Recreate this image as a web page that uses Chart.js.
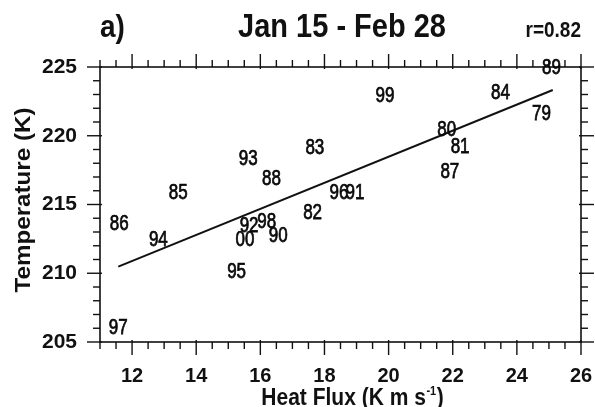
<!DOCTYPE html>
<html>
<head>
<meta charset="utf-8">
<script src="https://cdn.jsdelivr.net/npm/chart.js@4.4.1/dist/chart.umd.min.js"></script>
<style>
	html, body { margin: 0; padding: 0; background: #fff; overflow: hidden; }
	canvas { display: block; }
</style>
</head>
<body>
<canvas id="c-scatter" width="595" height="407"></canvas>
<script>
let years = ["79", "80", "81", "82", "83", "84", "85", "86", "87", "88", "89",
	"90", "91", "92", "93", "94", "95", "96", "97", "98", "99", "00"];
let heatFlux = [24.77, 21.81, 22.23, 17.63, 17.70, 23.49, 13.44, 11.60, 21.91, 16.35, 25.08,
	16.56, 18.95, 15.65, 15.62, 12.82, 15.26, 18.45, 11.57, 16.20, 19.89, 15.52];
let temperature = [221.63, 220.47, 219.25, 214.48, 219.16, 223.20, 215.93, 213.63, 217.46, 216.91, 225.02,
	212.78, 215.93, 213.51, 218.36, 212.47, 210.16, 215.93, 206.11, 213.82, 222.93, 212.49];

let fitX = [11.57, 25.12];
let fitY = [210.48, 223.33];

let xTickValues = [12, 14, 16, 18, 20, 22, 24, 26];
let yTickValues = [205, 210, 215, 220, 225];

let panelLabel = "a)";
let titleText = "Jan 15 - Feb 28";
let corrText = "r=0.82";
let xTitle = "Heat Flux (K m s";
let xTitleSup = "-1";
let yTitle = "Temperature (K)";

let fontName = "'Liberation Sans', Arial, Helvetica, sans-serif";


function stretchedText(ctx, text, x, y, font, sy, align, thicken) {
	ctx.save();
	ctx.font = font;
	ctx.textAlign = align;
	ctx.textBaseline = "alphabetic";
	ctx.translate(x, y);
	ctx.scale(1, sy);
	ctx.fillText(text, 0, 0);
	if (thicken) {
		ctx.lineWidth = thicken;
		ctx.strokeStyle = ctx.fillStyle;
		ctx.strokeText(text, 0, 0);
	}
	ctx.restore();
}


function tickLine(ctx, x1, y1, x2, y2) {
	ctx.beginPath();
	ctx.moveTo(x1, y1);
	ctx.lineTo(x2, y2);
	ctx.stroke();
}


let framePlugin = {
	id: "frame",
	afterDraw(chart) {
		let ctx = chart.ctx;
		let a = chart.chartArea;
		let xs = chart.scales.x;
		let ys = chart.scales.y;

		ctx.save();
		ctx.strokeStyle = "#111";
		ctx.lineWidth = 1.6;
		ctx.strokeRect(a.left, a.top, a.right - a.left, a.bottom - a.top);

		ctx.lineWidth = 1.4;
		for (let v = xs.min; v <= xs.max + 0.001; v += 0.5) {
			let px = xs.getPixelForValue(v);
			let major = Math.abs(v / 2 - Math.round(v / 2)) < 0.001;
			let len = major ? 13 : 7;
			tickLine(ctx, px, a.bottom - (major ? 2 : 0), px, a.bottom + len);
			tickLine(ctx, px, a.top + (major ? 2 : 0), px, a.top - len);
		}
		for (let v = ys.min; v <= ys.max + 0.001; v += 1) {
			let py = ys.getPixelForValue(v);
			let major = v % 5 == 0;
			let len = major ? 13 : 7;
			tickLine(ctx, a.left + (major ? 2 : 0), py, a.left - len, py);
			tickLine(ctx, a.right - (major ? 2 : 0), py, a.right + len, py);
		}

		// year labels placed on the scatter points
		ctx.fillStyle = "#0a0a0a";
		let meta = chart.getDatasetMeta(1);
		meta.data.forEach(function (pt, i) {
			stretchedText(ctx, years[i], pt.x, pt.y + 7, "17px " + fontName, 1.25, "center", 0.6);
		});

		ctx.fillStyle = "#111";
		stretchedText(ctx, panelLabel, 100, 37, "bold 28px " + fontName, 1.12, "left");
		stretchedText(ctx, titleText, 342, 37, "bold 29px " + fontName, 1.12, "center");
		stretchedText(ctx, corrText, 581, 37, "bold 19px " + fontName, 1.2, "right");

		// x axis title with superscript
		let mainFont = "bold 21px " + fontName;
		let supFont = "bold 11px " + fontName;
		ctx.font = mainFont;
		let w1 = ctx.measureText(xTitle).width;
		let w3 = ctx.measureText(")").width;
		ctx.font = supFont;
		let w2 = ctx.measureText(xTitleSup).width;
		let x0 = 352 - (w1 + w2 + w3) / 2;
		stretchedText(ctx, xTitle, x0, 405, mainFont, 1.1, "left");
		stretchedText(ctx, xTitleSup, x0 + w1 + 0.5, 395, supFont, 1.1, "left");
		stretchedText(ctx, ")", x0 + w1 + w2 + 1, 405, mainFont, 1.1, "left");

		ctx.save();
		ctx.translate(30, 200);
		ctx.rotate(-Math.PI / 2);
		ctx.scale(1.1, 1);
		ctx.font = "bold 22px " + fontName;
		ctx.textAlign = "center";
		ctx.textBaseline = "alphabetic";
		ctx.fillText(yTitle, 0, 0);
		ctx.restore();

		ctx.restore();
	}
};


let points = heatFlux.map(function (v, i) { return { x: v, y: temperature[i] }; });
let fitLine = fitX.map(function (v, i) { return { x: v, y: fitY[i] }; });

let chartCanvas = document.getElementById("c-scatter");

let scatterChart = new Chart(chartCanvas, {
	type: "scatter",
	data: {
		datasets: [{
			type: "line",
			data: fitLine,
			borderColor: "#111",
			borderWidth: 2,
			pointRadius: 0,
			fill: false
		}, {
			data: points,
			pointRadius: 0,
			pointHoverRadius: 0
		}]
	},
	options: {
		responsive: false,
		animation: false,
		events: [],
		layout: {
			autoPadding: false,
			padding: { top: 67, right: 14, left: 0, bottom: 0 }
		},
		plugins: {
			legend: { display: false },
			tooltip: { enabled: false },
			title: { display: false }
		},
		scales: {
			x: {
				type: "linear",
				min: 11,
				max: 26,
				grid: { display: false, drawTicks: false },
				border: { display: false },
				afterBuildTicks: function (s) { s.ticks = xTickValues.map(function (v) { return { value: v }; }); },
				afterFit: function (s) {
					s.height = 65;
					s.paddingLeft = 0;
					s.paddingRight = 0;
				},
				ticks: {
					padding: 22,
					color: "#111",
					maxRotation: 0,
					autoSkip: false,
					font: { family: fontName, size: 20, weight: "bold" }
				}
			},
			y: {
				type: "linear",
				min: 205,
				max: 225,
				grid: { display: false, drawTicks: false },
				border: { display: false },
				afterBuildTicks: function (s) { s.ticks = yTickValues.map(function (v) { return { value: v }; }); },
				afterFit: function (s) {
					s.width = 100;
					s.paddingTop = 0;
					s.paddingBottom = 0;
				},
				ticks: {
					padding: 23,
					color: "#111",
					autoSkip: false,
					font: { family: fontName, size: 21, weight: "bold" }
				}
			}
		}
	},
	plugins: [framePlugin]
});
</script>
</body>
</html>
